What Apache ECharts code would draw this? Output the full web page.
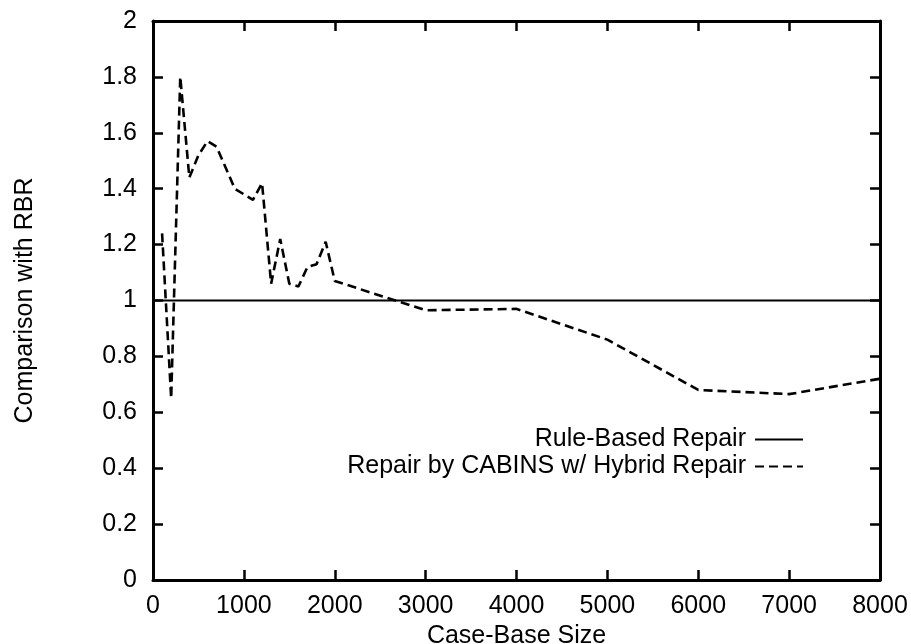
<!DOCTYPE html>
<html>
<head>
<meta charset="utf-8">
<script src="https://cdn.jsdelivr.net/npm/echarts@6/dist/echarts.min.js"></script>
<style>
  html, body { margin: 0; padding: 0; background: #fff; }
  #chart { width: 911px; height: 644px; }
</style>
</head>
<body>
<div id="chart"></div>
<script>
// Case-base sizes and the relative cost compared with rule-based repair
const caseBaseSizes = [100, 200, 300, 400, 500, 600, 700, 900, 1100, 1200, 1300, 1400,
  1500, 1600, 1700, 1800, 1900, 2000, 3000, 4000, 5000, 6000, 7000, 8000];
const hybridRatio = [1.24, 0.65, 1.80, 1.44, 1.52, 1.57, 1.55, 1.40, 1.36, 1.42, 1.06, 1.22,
  1.06, 1.05, 1.12, 1.13, 1.21, 1.07, 0.965, 0.97, 0.86, 0.68, 0.665, 0.72];
// Rule-based repair is the baseline (ratio 1)
const baselineX = [0, 8000];
const baselineY = [1, 1];

const xTicks = [0, 1000, 2000, 3000, 4000, 5000, 6000, 7000, 8000];
const yTicks = [0, 0.2, 0.4, 0.6, 0.8, 1, 1.2, 1.4, 1.6, 1.8, 2];

const seriesNames = ['Rule-Based Repair', 'Repair by CABINS w/ Hybrid Repair'];

const FONT = '"Liberation Sans", Arial, Helvetica, sans-serif';
const tickLabel = { color: '#000', fontFamily: FONT, fontSize: 25 };

function axisLineStyle() { return { show: true, onZero: false, lineStyle: { color: '#000', width: 3 } }; }
function inwardTicks() { return { show: true, inside: true, length: 10, lineStyle: { color: '#000', width: 2.5 } }; }

function xAxisDef(pos, labelled) {
  return {
    type: 'value', gridIndex: 0, position: pos,
    min: xTicks[0], max: xTicks[xTicks.length - 1], interval: 1000,
    splitLine: { show: false }, axisLine: axisLineStyle(), axisTick: inwardTicks(),
    axisLabel: labelled
      ? Object.assign({ margin: 14, formatter: v => String(v) }, tickLabel)
      : { show: false },
    name: labelled ? 'Case-Base Size' : '', nameLocation: 'middle', nameGap: 39,
    nameTextStyle: tickLabel
  };
}
function yAxisDef(pos, labelled) {
  return {
    type: 'value', gridIndex: 0, position: pos,
    min: yTicks[0], max: yTicks[yTicks.length - 1], interval: 0.2,
    splitLine: { show: false }, axisLine: axisLineStyle(), axisTick: inwardTicks(),
    axisLabel: labelled
      ? Object.assign({ margin: 16, formatter: v => String(+v.toFixed(1)) }, tickLabel)
      : { show: false },
    name: labelled ? 'Comparison with RBR' : '', nameLocation: 'middle', nameGap: 115, nameRotate: 90,
    nameTextStyle: tickLabel
  };
}

function legendDef(name, top) {
  return {
    data: [name], right: 107, top: top, align: 'right', padding: 0,
    itemWidth: 48, itemHeight: 14, itemGap: 14,
    itemStyle: { color: 'rgba(0,0,0,0)', borderWidth: 0, opacity: 0 },
    lineStyle: { color: '#000' },
    textStyle: { color: '#000', fontFamily: FONT, fontSize: 25, padding: [0, 4, 0, 0] },
    selectedMode: false
  };
}

const chart = echarts.init(document.getElementById('chart'), null, { renderer: 'canvas' });

chart.setOption({
  animation: false,
  backgroundColor: '#fff',
  grid: { left: 153, right: 31, top: 21, bottom: 64, outerBoundsMode: 'none', containLabel: false },
  xAxis: [xAxisDef('bottom', true), xAxisDef('top', false)],
  yAxis: [yAxisDef('left', true), yAxisDef('right', false)],
  legend: [legendDef(seriesNames[0], 427), legendDef(seriesNames[1], 454)],
  series: [
    {
      name: seriesNames[0], type: 'line', symbol: 'none', xAxisIndex: 0, yAxisIndex: 0,
      data: baselineX.map((x, i) => [x, baselineY[i]]),
      lineStyle: { color: '#000', width: 1.8, type: 'solid' },
      itemStyle: { color: '#000' }
    },
    {
      name: seriesNames[1], type: 'line', symbol: 'none', xAxisIndex: 0, yAxisIndex: 0,
      data: caseBaseSizes.map((x, i) => [x, hybridRatio[i]]),
      lineStyle: { color: '#000', width: 2.6, type: [9, 5] },
      itemStyle: { color: '#000' }
    },
    // Empty series bound to the top/right axes so the mirrored frame is drawn
    { type: 'line', xAxisIndex: 1, yAxisIndex: 1, data: [], silent: true }
  ]
});
</script>
</body>
</html>
